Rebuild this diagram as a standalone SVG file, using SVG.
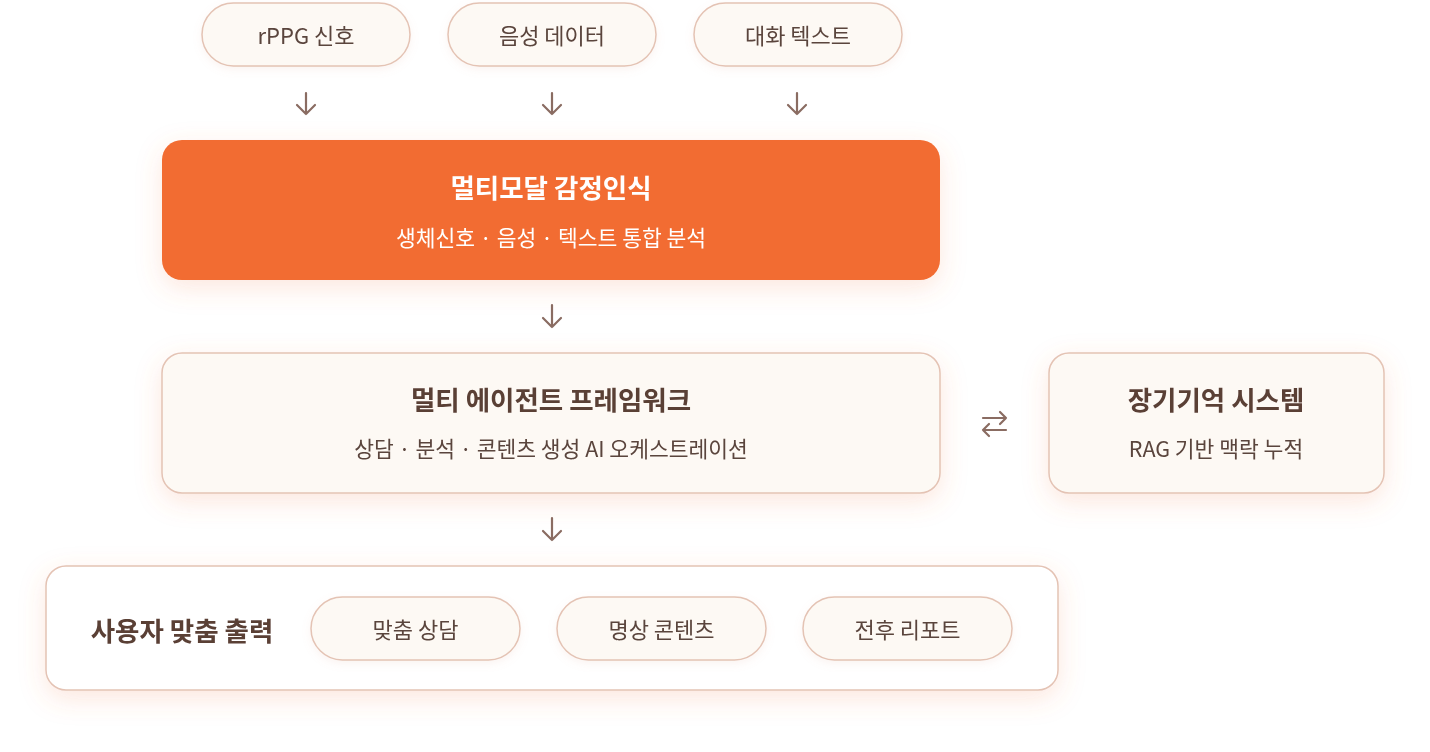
<svg xmlns="http://www.w3.org/2000/svg" width="1430" height="752" viewBox="0 0 1430 752">
<defs>
<filter id="sh" x="-20%" y="-40%" width="140%" height="190%">
<feDropShadow dx="0" dy="8" stdDeviation="13" flood-color="#f07a4a" flood-opacity="0.18"/>
</filter>
<filter id="shs" x="-20%" y="-40%" width="140%" height="190%">
<feDropShadow dx="0" dy="3" stdDeviation="4" flood-color="#d9a08a" flood-opacity="0.12"/>
</filter>
<style>
.pill{fill:#fdf9f4;stroke:#e4c3b4;stroke-width:1.5}
.card{fill:#fdf9f4;stroke:#e4c3b4;stroke-width:1.5}
.t{font-family:"Noto Sans CJK KR","Noto Sans",sans-serif;text-anchor:middle;dominant-baseline:central}
.pt{font-size:22px;fill:#5a443c}
.h{font-size:26.5px;font-weight:700;fill:#5a3f36}
.s{font-size:21.5px;fill:#5a443c}
.hw{font-size:26.5px;font-weight:700;fill:#ffffff}
.sw{font-size:21.5px;fill:#ffffff}
.ar{fill:none;stroke:#8a6c62;stroke-width:2.2;stroke-linecap:round;stroke-linejoin:round}
</style>
</defs>
<rect width="1430" height="752" fill="#ffffff"/>

<g id="in-rppg" filter="url(#shs)">
<rect class="pill" x="202" y="3" width="208" height="63" rx="31.5"/>
<text class="t pt" x="306" y="34">rPPG 신호</text>
</g>
<g id="in-voice" filter="url(#shs)">
<rect class="pill" x="448" y="3" width="208" height="63" rx="31.5"/>
<text class="t pt" x="552" y="34">음성 데이터</text>
</g>
<g id="in-text" filter="url(#shs)">
<rect class="pill" x="694" y="3" width="208" height="63" rx="31.5"/>
<text class="t pt" x="798" y="34">대화 텍스트</text>
</g>

<g id="emotion" filter="url(#sh)">
<rect x="162" y="140" width="778" height="140" rx="20" fill="#f26c30"/>
<text class="t hw" x="551" y="186">멀티모달 감정인식</text>
<text class="t sw" x="551" y="236">생체신호 · 음성 · 텍스트 통합 분석</text>
</g>

<g id="agent" filter="url(#sh)">
<rect class="card" x="162" y="353" width="778" height="140" rx="20"/>
<text class="t h" x="551" y="398">멀티 에이전트 프레임워크</text>
<text class="t s" x="551" y="447">상담 · 분석 · 콘텐츠 생성 AI 오케스트레이션</text>
</g>

<g id="memory" filter="url(#sh)">
<rect class="card" x="1049" y="353" width="335" height="140" rx="20"/>
<text class="t h" x="1216" y="398">장기기억 시스템</text>
<text class="t s" x="1216" y="447">RAG 기반 맥락 누적</text>
</g>

<g id="output" filter="url(#sh)">
<rect x="46" y="566" width="1012" height="124" rx="20" fill="#ffffff" stroke="#e4c3b4" stroke-width="1.5"/>
<text class="t h" x="182" y="629">사용자 맞춤 출력</text>
</g>
<g id="out-counsel" filter="url(#shs)">
<rect class="pill" x="311" y="597" width="209" height="63" rx="31.5"/>
<text class="t pt" x="415.5" y="628">맞춤 상담</text>
</g>
<g id="out-content" filter="url(#shs)">
<rect class="pill" x="557" y="597" width="209" height="63" rx="31.5"/>
<text class="t pt" x="661.5" y="628">명상 콘텐츠</text>
</g>
<g id="out-report" filter="url(#shs)">
<rect class="pill" x="803" y="597" width="209" height="63" rx="31.5"/>
<text class="t pt" x="907.5" y="628">전후 리포트</text>
</g>

<g id="connectors">
<path class="ar" d="M306 93V114M297 105L306 114L315 105"/>
<path class="ar" d="M552 93V114M543 105L552 114L561 105"/>
<path class="ar" d="M797 93V114M788 105L797 114L806 105"/>
<path class="ar" d="M552 305V327M543 318L552 327L561 318"/>
<path class="ar" d="M552 518V540M543 531L552 540L561 531"/>
<path class="ar" d="M983 418H1006M1000 412L1006 418L1000 424M983 430H1006M989 424L983 430L989 436"/>
</g>
</svg>
